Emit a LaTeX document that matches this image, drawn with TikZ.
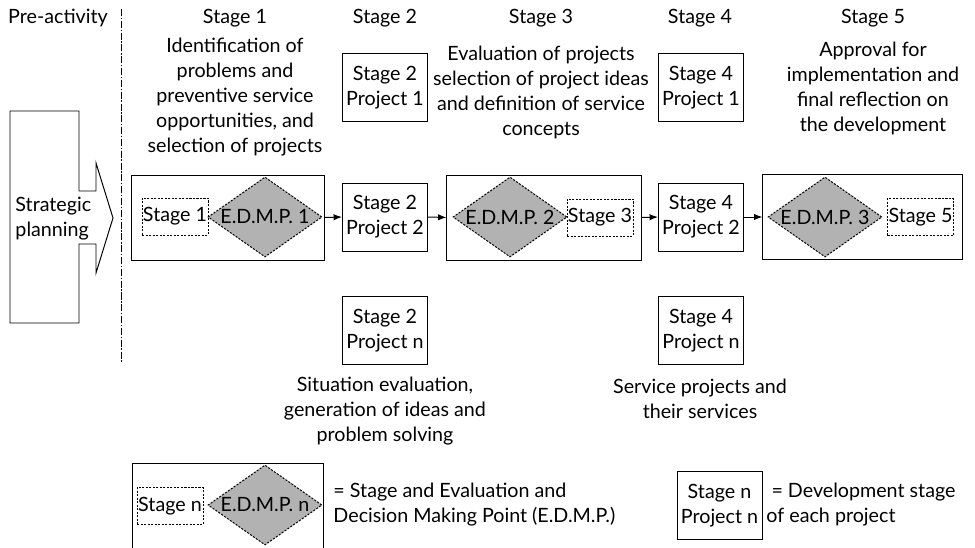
\documentclass[tikz,border=0pt]{standalone}
\usepackage{fontspec}
\setmainfont{Lato}
\usetikzlibrary{shapes,arrows.meta,calc}
\definecolor{edmpgray}{gray}{0.7}
\tikzset{
  txt/.style={align=center,inner sep=0pt},
  projbox/.style={draw,align=center,minimum width=2.125cm,minimum height=1.7cm,inner sep=1pt},
  stagebox/.style={draw,dash pattern=on 1.5pt off 1pt,minimum width=1.65cm,minimum height=0.925cm,inner sep=0pt},
  edmp/.style={diamond,draw,dash pattern=on 1.5pt off 1pt,fill=edmpgray,minimum width=2.85cm,minimum height=2cm,inner sep=0pt,shape aspect=1.425},
  bigbox/.style={draw,minimum height=2.125cm,inner sep=0pt},
  flow/.style={-{Latex[length=6pt,width=4.5pt]}},
}

\begin{document}
\begin{tikzpicture}[x=0.025cm,y=-0.025cm,line width=0.7pt,font=\fontsize{14}{17.8}\selectfont]
\clip (0,0) rectangle (975,547);
% pre-activity
\node[txt] (pre) at (58,18) {Pre-activity};
\draw[line width=0.6pt,dash pattern=on 5pt off 1.2pt on 1pt off 1.2pt] (121,9) -- (121,362);
\draw (10,111) -- (79,111) -- (79,191) -- (96,191) -- (96,163) -- (113,218) -- (96,273) -- (96,244) -- (79,244) -- (79,323) -- (10,323) -- cycle;
\node[txt,align=left,anchor=west] (sp) at (15,219) {Strategic\\planning};
% stage headers
\foreach \n/\x in {1/235,2/385,3/541,4/700,5/873}
  \node[txt] (h\n) at (\x,18) {Stage \n};
\node[txt] (t1) at (235,97) {Identification of\\problems and\\preventive service\\opportunities, and\\selection of projects};
\node[txt] (t3) at (541,92) {Evaluation of projects\\selection of project ideas\\and definition of service\\concepts};
\node[txt] (t5) at (873,88) {Approval for\\implementation and\\final reflection on\\the development};
\node[txt] (t2) at (385,411) {Situation evaluation,\\generation of ideas and\\problem solving};
\node[txt] (t4) at (700,399) {Service projects and\\their services};
% project boxes
\foreach \s/\x in {2/385,4/701}{
  \node[projbox] (p\s1) at (\x,87.5) {Stage \s\\Project 1};
  \node[projbox] (p\s2) at (\x,217) {Stage \s\\Project 2};
  \node[projbox] (p\s n) at (\x,330.5) {Stage \s\\Project n};
}
% stage and E.D.M.P. boxes
\node[bigbox,minimum width=4.8cm] (b1) at (228,217.5) {};
\node[stagebox] (s1) at (175,216.5) {Stage 1};
\node[edmp,label=center:{E.D.M.P. 1}] (d1) at (265,217) {};
\node[bigbox,minimum width=4.85cm] (b2) at (544,217.5) {};
\node[stagebox] (s3) at (600,217.5) {Stage 3};
\node[edmp,label=center:{E.D.M.P. 2}] (d2) at (510,217) {};
\node[bigbox,minimum width=4.975cm] (b3) at (862.5,217) {};
\node[stagebox] (s5) at (920.5,217) {Stage 5};
\node[edmp,label=center:{E.D.M.P. 3}] (d3) at (825,217) {};
\draw[flow] (b1.east) -- (p22.west);
\draw[flow] (p22.east) -- (b2.west);
\draw[flow] (b2.east) -- (p42.west);
\draw[flow] (p42.east) -- (b3.west);
% legend
\draw (132,550) -- (132,463) -- (323,463) -- (323,550);
\node[stagebox] (sn) at (170,506) {Stage n};
\node[edmp,label=center:{E.D.M.P. n}] (dn) at (265,505) {};
\node[txt,align=left,anchor=west] (ln1) at (333,505) {= Stage and Evaluation and\\Decision Making Point (E.D.M.P.)};
\node[projbox] (pn) at (719.5,505.5) {Stage n\\Project n};
\node[txt,align=left,anchor=west] (ln2) at (766,505) {\ = Development stage\\of each project};
\end{tikzpicture}
\end{document}
